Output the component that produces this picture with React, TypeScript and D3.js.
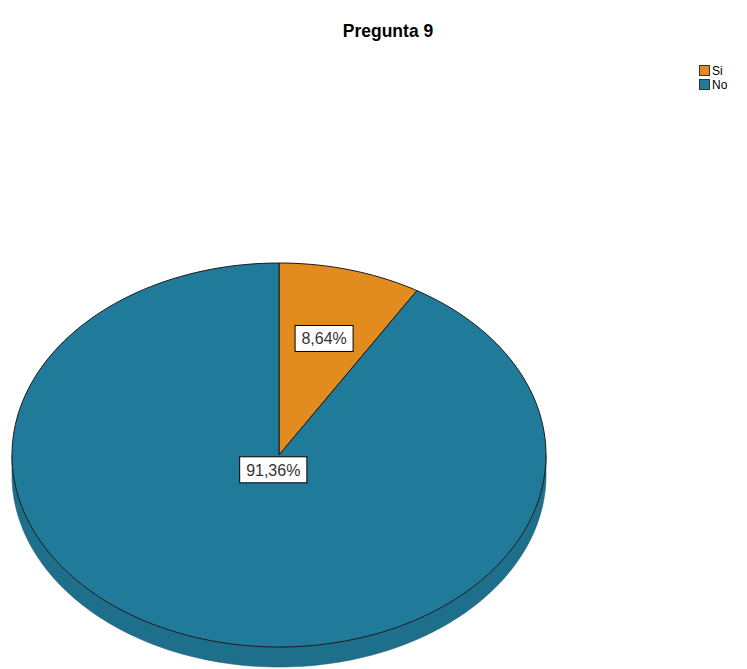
import React from "react";
import * as d3 from "d3";

const categories = ["Si", "No"];
const values = [8.64, 91.36];
const labels = ["8,64%", "91,36%"];
const colors = ["#e28b1e", "#207b9b"];
const labelRadius = [0.63, 0.08];

const W = 747, H = 669;
const cx = 279, cy = 455, rx = 267, ry = 192, depth = 20;

function pt(a: number, r = 1, dy = 0): [number, number] {
  return [cx + rx * r * Math.sin(a), cy - ry * r * Math.cos(a) + dy];
}

function slicePath(a0: number, a1: number) {
  const n = Math.max(2, Math.ceil(((a1 - a0) / (2 * Math.PI)) * 200));
  const pts: [number, number][] = [[cx, cy]];
  for (let i = 0; i <= n; i++) pts.push(pt(a0 + ((a1 - a0) * i) / n));
  return d3.line()(pts) + "Z";
}

function sidePath() {
  const a0 = Math.PI / 2, a1 = (3 * Math.PI) / 2, n = 150;
  const top: [number, number][] = [];
  const bot: [number, number][] = [];
  for (let i = 0; i <= n; i++) {
    const a = a0 + ((a1 - a0) * i) / n;
    top.push(pt(a));
    bot.push(pt(a, 1, depth));
  }
  return d3.line()([...top, ...bot.reverse()]) + "Z";
}

export default function App() {
  const arcs = d3.pie<number>().sort(null)(values);
  return (
    <svg width={W} height={H} style={{ position: "absolute", left: 0, top: 0, background: "#fff" }}
      fontFamily="Arial, 'Liberation Sans', sans-serif">
      <text x={388} y={37} textAnchor="middle" fontSize={17.5} fontWeight="bold" fill="#000">Pregunta 9</text>
      {categories.map((c, i) => (
        <g key={c}>
          <rect x={699.5} y={65.5 + i * 14} width={10} height={10} fill={colors[i]} stroke="#333" />
          <text x={712} y={75 + i * 14} fontSize={12} fill="#000">{c}</text>
        </g>
      ))}
      <path d={sidePath()} fill="#1d6f8c" stroke="#1a5a70" strokeWidth={0.6} />
      {arcs.map((a, i) => (
        <path key={i} d={slicePath(a.startAngle, a.endAngle)} fill={colors[i]} stroke="#1a1a1a" strokeWidth={1} />
      ))}
      {arcs.map((a, i) => {
        const m = (a.startAngle + a.endAngle) / 2;
        const [x, y] = pt(m, labelRadius[i]);
        const w = labels[i].length * 9.2 + 12;
        return (
          <g key={"l" + i}>
            <rect x={x - w / 2} y={y - 13} width={w} height={26} fill="#fff" stroke="#000" strokeWidth={1} />
            <text x={x} y={y + 6} textAnchor="middle" fontSize={16} fill="#333">{labels[i]}</text>
          </g>
        );
      })}
    </svg>
  );
}
